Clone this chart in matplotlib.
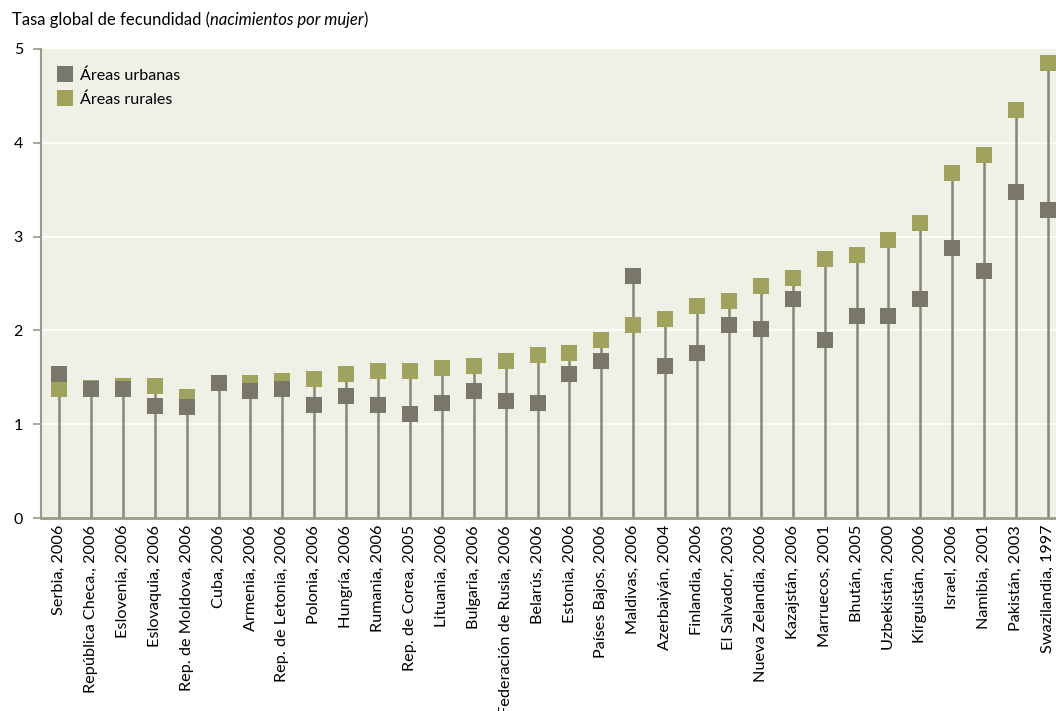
import numpy as np
import matplotlib
matplotlib.use("Agg")
import matplotlib.pyplot as plt
from matplotlib.lines import Line2D

# Datos: tasa global de fecundidad por zona
paises = ["Serbia, 2006", "República Checa., 2006", "Eslovenia, 2006", "Eslovaquia, 2006",
          "Rep. de Moldova, 2006", "Cuba, 2006", "Armenia, 2006", "Rep. de Letonia, 2006",
          "Polonia, 2006", "Hungría, 2006", "Rumania, 2006", "Rep. de Corea, 2005",
          "Lituania, 2006", "Bulgaria, 2006", "Federación de Rusia, 2006", "Belarús, 2006",
          "Estonia, 2006", "Países Bajos, 2006", "Maldivas, 2006", "Azerbaiyán, 2004",
          "Finlandia, 2006", "El Salvador, 2003", "Nueva Zelandia, 2006", "Kazajstán, 2006",
          "Marruecos, 2001", "Bhután, 2005", "Uzbekistán, 2000", "Kirguistán, 2006",
          "Israel, 2006", "Namibia, 2001", "Pakistán, 2003", "Swazilandia, 1997"]

urbanas = [1.53, 1.37, 1.37, 1.19, 1.18, 1.44, 1.35, 1.37,
           1.21, 1.30, 1.21, 1.11, 1.23, 1.35, 1.25, 1.23,
           1.53, 1.67, 2.58, 1.62, 1.76, 2.06, 2.01, 2.33,
           1.90, 2.15, 2.15, 2.33, 2.88, 2.63, 3.48, 3.28]

rurales = [1.37, 1.39, 1.41, 1.41, 1.29, 1.44, 1.44, 1.46,
           1.48, 1.53, 1.57, 1.57, 1.60, 1.62, 1.67, 1.74,
           1.76, 1.90, 2.06, 2.12, 2.26, 2.31, 2.47, 2.56,
           2.76, 2.80, 2.96, 3.14, 3.68, 3.87, 4.35, 4.85]

col_urb = "#78776a"
col_rur = "#a0a35e"
col_fondo = "#eff0e6"
col_eje = "#9b9b88"
col_tallo = "#878872"

plt.rcParams['font.family'] = ['Lato', 'DejaVu Sans']

fig = plt.figure(figsize=(10.56, 7.11), dpi=100)
ax = fig.add_axes([41/1056, 1 - 518/711, 1 - 41/1056, (518 - 49)/711])
ax.set_facecolor(col_fondo)

x = np.arange(len(paises))
tope = np.maximum(urbanas, rurales)

for yv in [1, 2, 3, 4]:
    ax.axhline(yv, color="white", lw=1.3, zorder=1)

ax.vlines(x, 0, tope, color=col_tallo, lw=1.8, zorder=2)
ax.plot(x, rurales, "s", color=col_rur, ms=11.5, mew=0, zorder=3)
ax.plot(x, urbanas, "s", color=col_urb, ms=11.5, mew=0, zorder=4)

paso = (1048 - 59) / 31
ax.set_xlim(-(59 - 41) / paso, (1056 - 59) / paso)
ax.set_ylim(0, 5)

ax.set_xticks(x)
ax.set_xticklabels(paises, rotation=90, fontsize=11.7)
ax.tick_params(axis="x", length=0, pad=5)
ax.set_yticks([0, 1, 2, 3, 4, 5])
ax.tick_params(axis="y", length=6, width=1.2, color=col_eje, labelsize=11.5, pad=7)

for s in ["top", "right"]:
    ax.spines[s].set_visible(False)
ax.spines["left"].set_color(col_eje)
ax.spines["left"].set_linewidth(1.5)
ax.spines["bottom"].set_color(col_eje)
ax.spines["bottom"].set_linewidth(2)

manejadores = [Line2D([], [], marker="s", ls="", color=col_urb, ms=11.5, mew=0),
               Line2D([], [], marker="s", ls="", color=col_rur, ms=11.5, mew=0)]
ax.legend(manejadores, ["Áreas urbanas", "Áreas rurales"], loc="upper left",
          frameon=False, fontsize=11.6, handletextpad=0.3, labelspacing=0.6,
          handlelength=1.2, bbox_to_anchor=(0.0, 0.99), borderaxespad=0.5)

# Título con parte en cursiva
r = fig.canvas.get_renderer()
t1 = fig.text(12/1056, 1 - 20/711, "Tasa global de fecundidad (", fontsize=12, va="center")
bb = t1.get_window_extent(r)
t2 = fig.text(bb.x1 / 1056, 1 - 20/711, "nacimientos por mujer", fontsize=12,
              va="center", style="italic")
bb2 = t2.get_window_extent(r)
fig.text(bb2.x1 / 1056, 1 - 20/711, ")", fontsize=12, va="center")

fig.savefig("out.png", dpi=100)
